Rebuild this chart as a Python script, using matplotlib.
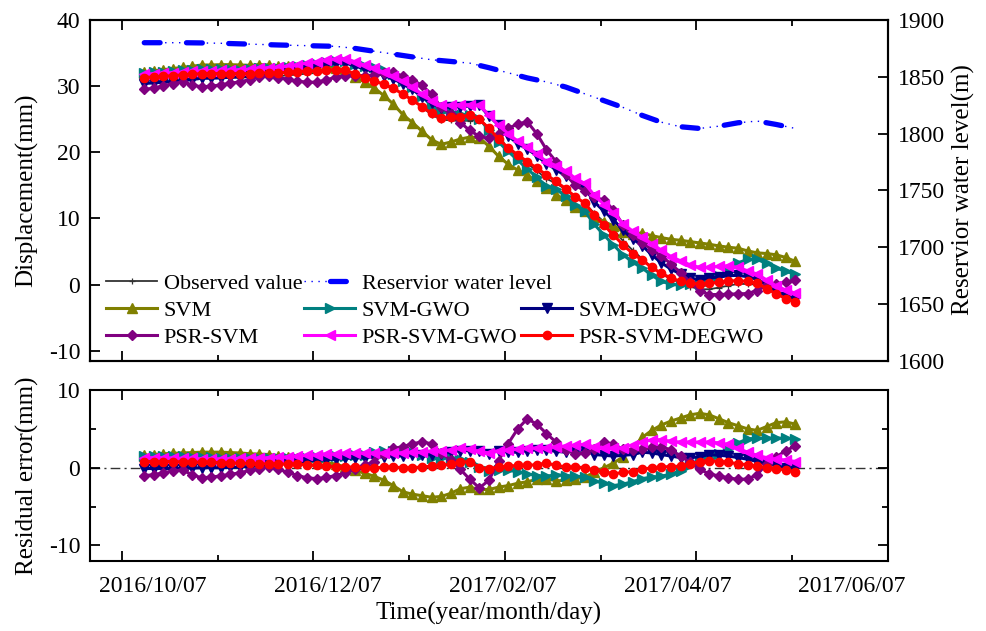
import numpy as np
import matplotlib
matplotlib.use("Agg")
import matplotlib.pyplot as plt
from matplotlib.legend_handler import HandlerTuple
from matplotlib.ticker import MultipleLocator, FixedLocator, NullLocator

plt.rcParams['font.family'] = ['Liberation Serif', 'DejaVu Serif']
plt.rcParams['axes.unicode_minus'] = False

# ---------------- data ----------------
# monitoring days on the time axis (3-day sampling)
day = np.arange(7, 212, 3)

# observed displacement (mm)
observed = [30.5, 30.6, 30.7, 30.8, 30.95, 31.05, 31.2, 31.2, 31.25, 31.3,
            31.3, 31.35, 31.5, 31.5, 31.5, 31.65, 31.75, 31.9, 32.0, 32.2,
            32.35, 32.3, 31.8, 31.3, 30.85, 30.2, 29.6, 28.8, 27.9, 26.8,
            25.7, 24.9, 24.85, 24.7, 24.8, 25.0, 23.7, 21.9, 20.5, 19.3,
            18.3, 17.2, 16.0, 15.3, 14.4, 13.2, 12.3, 10.8, 9.5, 8.3,
            6.6, 5.2, 3.9, 2.6, 1.6, 0.85, 0.3, -0.3, -0.7, -0.7,
            -0.45, -0.15, 0.1, 0.1, 0.0, -0.6, -1.3, -1.8, -2.1]

# residual errors (prediction - observation, mm)
res_svm = [1.6, 1.7, 1.8, 1.85, 1.9, 1.95, 2.0, 2.0, 2.0, 1.95,
           1.9, 1.8, 1.75, 1.7, 1.55, 1.4, 1.2, 1.05, 0.9, 0.7,
           0.45, 0.1, -0.35, -0.7, -1.1, -1.6, -2.3, -3.1, -3.4, -3.6,
           -3.8, -3.7, -3.3, -2.7, -2.5, -2.8, -2.8, -2.5, -2.3, -2.0,
           -1.8, -1.5, -1.4, -1.7, -1.6, -1.4, -1.2, -0.6, 0.0, 0.6,
           1.4, 2.5, 3.9, 4.8, 5.5, 6.0, 6.4, 6.8, 7.0, 6.8,
           6.3, 5.8, 5.4, 5.0, 4.8, 5.3, 5.8, 5.9, 5.6]
res_svm_gwo = [1.5, 1.5, 1.5, 1.5, 1.45, 1.4, 1.4, 1.35, 1.3, 1.25,
               1.2, 1.2, 1.2, 1.2, 1.2, 1.2, 1.25, 1.3, 1.35, 1.4,
               1.5, 1.55, 1.6, 1.7, 2.0, 2.2, 2.2, 2.0, 2.0, 1.7,
               1.3, 1.2, 1.3, 1.1, 0.8, 0.1, -0.4, -0.35, -0.35, -0.5,
               -0.8, -1.0, -1.1, -0.9, -1.0, -1.1, -1.2, -1.7, -2.0, -2.3,
               -2.1, -1.8, -1.4, -1.2, -1.1, -0.8, -0.4, 0.4, 0.8, 1.3,
               1.8, 2.4, 3.2, 3.7, 3.8, 3.8, 3.8, 3.8, 3.7]
res_svm_degwo = [-0.1, -0.1, -0.1, -0.1, -0.1, -0.05, 0.0, 0.0, 0.0, 0.05,
                 0.1, 0.15, 0.25, 0.35, 0.45, 0.6, 0.75, 0.85, 0.95, 1.05,
                 1.1, 1.2, 1.25, 1.3, 1.35, 1.4, 1.5, 1.55, 1.6, 1.6,
                 1.7, 1.8, 2.0, 2.2, 2.2, 2.1, 1.8, 2.2, 2.0, 2.0,
                 2.2, 2.3, 2.3, 2.1, 2.0, 2.2, 2.3, 1.7, 1.6, 1.5,
                 1.6, 1.7, 2.0, 1.9, 1.7, 1.5, 1.3, 1.3, 1.4, 1.7,
                 1.6, 1.5, 1.3, 1.1, 0.8, 0.5, 0.25, 0.0, -0.15]
res_psr_svm = [-1.0, -0.9, -0.65, -0.4, -0.3, -0.9, -1.3, -1.2, -1.05, -0.85,
               -0.65, -0.35, -0.1, 0.1, -0.2, -0.6, -1.0, -1.3, -1.4, -1.25,
               -1.0, -0.7, -0.2, 0.3, 0.8, 1.8, 2.5, 2.7, 3.1, 3.3,
               3.1, 1.9, 1.0, -0.2, -1.5, -2.6, -1.6, 0.9, 3.1, 5.0,
               6.3, 5.6, 4.4, 3.3, 2.3, 1.8, 1.9, 2.4, 3.3, 3.0,
               2.4, 2.3, 2.4, 2.7, 2.7, 2.3, 1.5, 0.7, -0.2, -0.8,
               -1.05, -1.3, -1.5, -1.45, -0.9, 0.5, 1.4, 2.2, 2.8]
res_psr_svm_gwo = [1.3, 1.3, 1.3, 1.25, 1.2, 1.2, 1.15, 1.15, 1.15, 1.15,
                   1.2, 1.2, 1.25, 1.3, 1.35, 1.4, 1.5, 1.6, 1.7, 1.75,
                   1.8, 1.85, 1.9, 1.9, 1.9, 1.9, 1.9, 1.95, 2.0, 2.0,
                   2.1, 2.2, 2.3, 2.5, 2.4, 2.1, 1.9, 2.2, 2.3, 2.4,
                   2.5, 2.55, 2.6, 2.7, 2.8, 2.9, 3.0, 2.7, 2.6, 2.5,
                   2.6, 2.9, 3.3, 3.6, 3.6, 3.4, 3.3, 3.3, 3.3, 3.3,
                   3.2, 3.0, 2.5, 2.0, 1.6, 1.3, 1.1, 1.0, 0.8]
res_psr_svm_degwo = [0.8, 0.8, 0.8, 0.8, 0.75, 0.75, 0.7, 0.7, 0.65, 0.6,
                     0.6, 0.55, 0.5, 0.5, 0.5, 0.45, 0.45, 0.4, 0.3, 0.2,
                     0.15, 0.1, 0.1, 0.0, -0.05, 0.1, 0.1, 0.0, 0.0, 0.1,
                     0.2, 0.3, 0.45, 0.7, 0.8, 0.0, -0.1, 0.1, 0.2, 0.3,
                     0.3, 0.4, 0.6, 0.3, 0.1, 0.1, 0.0, -0.3, -0.5, -0.8,
                     -0.6, -0.5, -0.2, 0.0, 0.1, 0.15, 0.2, 0.5, 0.8, 0.9,
                     0.8, 0.7, 0.5, 0.4, 0.2, 0.0, -0.1, -0.3, -0.5]

model_names = ["SVM", "SVM-GWO", "SVM-DEGWO", "PSR-SVM", "PSR-SVM-GWO", "PSR-SVM-DEGWO"]
residuals = [res_svm, res_svm_gwo, res_svm_degwo, res_psr_svm, res_psr_svm_gwo, res_psr_svm_degwo]

# reservoir water level (m), 6-day sampling
level_day = np.arange(7, 212, 6)
level = [1880, 1880, 1880, 1879.8, 1879.5, 1879, 1878.5, 1878, 1877.6, 1877.2,
         1876.8, 1875, 1872.5, 1870, 1867.5, 1865, 1863.5, 1862, 1858, 1853.5,
         1849, 1845.5, 1841, 1835, 1829, 1823, 1816, 1810, 1806, 1804.5,
         1806.5, 1809.5, 1811, 1808, 1804.5]

date_labels = ["2016/10/07", "2016/12/07", "2017/02/07", "2017/04/07", "2017/06/07"]

# ---------------- styles ----------------
colors = ["#808000", "#008080", "#000080", "#800080", "#FF00FF", "#FF0000"]
markers = ["^", ">", "v", "D", "<", "o"]
msizes = [6.5, 6.5, 6.5, 5.5, 6.5, 6.0]
date_label_pos = [9.8, 64.5, 119.3, 174.0, 228.7]

W, H = 986, 631


def fx(px):
    return px / W


def fy(py):
    return 1 - py / H


fig = plt.figure(figsize=(W / 100, H / 100), dpi=100)
ax = fig.add_axes([fx(90), fy(360.7), fx(888) - fx(90), fy(20) - fy(360.7)])
axr = ax.twinx()
axb = fig.add_axes([fx(90), fy(561), fx(888) - fx(90), fy(390) - fy(561)])

obs = np.asarray(observed)

# top panel: observations and predictions
h_obs, = ax.plot(day, obs, color="#333333", lw=1.3, marker="+", ms=4, mew=0.9,
                 label="Observed value", zorder=2)
model_handles = []
for name, res, c, m, s in zip(model_names, residuals, colors, markers, msizes):
    pred = obs + np.asarray(res)
    h, = ax.plot(day, pred, color=c, lw=2.2, marker=m, ms=s, mec=c, mfc=c,
                 label=name, zorder=3)
    model_handles.append(h)

# reservoir level: thick dashes over a thin dotted trace
h_lv_dots, = axr.plot(level_day, level, color="#0000FF", lw=1.0, ls=(0, (1, 4)))
h_lv_dash, = axr.plot(level_day, level, color="#0000FF", lw=3.8,
                      ls=(0, (3.0, 5.0)), dash_capstyle="round")

ax.set_xlim(-10, 240)
ax.set_ylim(-11.5, 40)
axr.set_ylim(1600, 1900)
ax.yaxis.set_major_locator(MultipleLocator(10))
axr.yaxis.set_major_locator(MultipleLocator(50))

# bottom panel: residual errors
axb.axhline(0, color="#333333", lw=1.0, ls=(0, (7, 3, 1.5, 3)), zorder=1)
for name, res, c, m, s in zip(model_names, residuals, colors, markers, msizes):
    axb.plot(day, res, color=c, lw=2.2, marker=m, ms=s, mec=c, mfc=c, zorder=3)
axb.set_xlim(-10, 240)
axb.set_ylim(-12, 10)
axb.yaxis.set_major_locator(FixedLocator([-10, 0, 10]))
axb.yaxis.set_minor_locator(FixedLocator([-5, 5]))

for a in (ax, axb):
    a.xaxis.set_major_locator(MultipleLocator(60))
    a.xaxis.set_minor_locator(MultipleLocator(30))
    a.tick_params(axis="x", which="both", direction="in", top=True, bottom=True,
                  labelbottom=False, width=1.3)
    a.tick_params(axis="x", which="major", length=7)
    a.tick_params(axis="x", which="minor", length=4)
    for sp in a.spines.values():
        sp.set_linewidth(1.5)

ax.tick_params(axis="y", which="major", direction="in", length=7, width=1.3,
               labelsize=17, pad=7, left=True, right=False)
axr.tick_params(axis="y", which="major", direction="in", length=7, width=1.3,
                labelsize=17, pad=7)
axr.yaxis.set_minor_locator(NullLocator())
for sp in axr.spines.values():
    sp.set_linewidth(1.5)
axb.tick_params(axis="y", which="both", direction="in", width=1.3, labelsize=17,
                pad=7, left=True, right=True)
axb.tick_params(axis="y", which="major", length=7)
axb.tick_params(axis="y", which="minor", length=4)

# date labels below the residual panel
sec = axb.secondary_xaxis("bottom")
sec.set_xticks(date_label_pos, labels=date_labels)
sec.xaxis.set_minor_locator(NullLocator())
sec.tick_params(length=0, pad=11, labelsize=17)
sec.spines["bottom"].set_visible(False)

# axis titles
fig.text(fx(27), fy(190), "Displacement(mm)", rotation=90, ha="center", va="center", fontsize=18)
fig.text(fx(27), fy(476), "Residual error(mm)", rotation=90, ha="center", va="center", fontsize=18)
fig.text(fx(963), fy(190), "Reservior water level(m)", rotation=90, ha="center", va="center", fontsize=18)
fig.text(fx(489), fy(613), "Time(year/month/day)", ha="center", va="center", fontsize=18)

# legend laid out as three columns
leg_kw = dict(loc="upper left", frameon=False, fontsize=16, borderpad=0,
              borderaxespad=0, handlelength=2.3, handletextpad=0.3,
              labelspacing=0.3, numpoints=1, bbox_transform=fig.transFigure)
fig.legend([h_obs, model_handles[0], model_handles[3]],
           ["Observed value", model_names[0], model_names[3]],
           bbox_to_anchor=(fx(106), fy(273)), **leg_kw)
fig.legend([(h_lv_dots, h_lv_dash), model_handles[1], model_handles[4]],
           ["Reservior water level", model_names[1], model_names[4]],
           handler_map={tuple: HandlerTuple(ndivide=None)},
           bbox_to_anchor=(fx(304), fy(273)), **leg_kw)
fig.legend([model_handles[2], model_handles[5]],
           [model_names[2], model_names[5]],
           bbox_to_anchor=(fx(521), fy(300)), **leg_kw)

fig.savefig("out.png", dpi=100)
